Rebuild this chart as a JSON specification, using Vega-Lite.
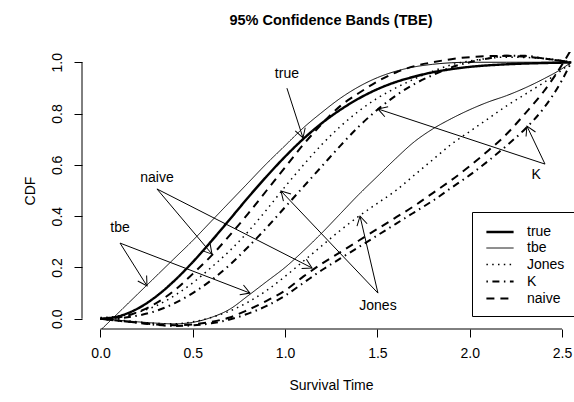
{
  "$schema": "https://vega.github.io/schema/vega-lite/v6.json",
  "width": 492,
  "height": 277,
  "autosize": {"type": "none"},
  "padding": {"left": 82, "top": 52, "right": 0, "bottom": 73},
  "background": "white",
  "config": {"view": {"stroke": null}, "font": "Liberation Sans"},
  "title": {"text": "95% Confidence Bands (TBE)", "fontSize": 14.5, "fontWeight": "bold", "font": "Liberation Sans", "anchor": "middle", "frame": "group", "offset": 24, "dx": 3, "color": "black"},
  "datasets": {
    "curves": [
      {"s":"true","b":"m","x":0,"y":0},{"s":"true","b":"m","x":0.1,"y":0.01},{"s":"true","b":"m","x":0.2,"y":0.039},{"s":"true","b":"m","x":0.3,"y":0.086},{"s":"true","b":"m","x":0.4,"y":0.148},{"s":"true","b":"m","x":0.5,"y":0.221},{"s":"true","b":"m","x":0.6,"y":0.302},{"s":"true","b":"m","x":0.7,"y":0.387},{"s":"true","b":"m","x":0.8,"y":0.473},{"s":"true","b":"m","x":0.9,"y":0.555},{"s":"true","b":"m","x":1.0,"y":0.632},{"s":"true","b":"m","x":1.1,"y":0.702},{"s":"true","b":"m","x":1.2,"y":0.763},{"s":"true","b":"m","x":1.3,"y":0.815},{"s":"true","b":"m","x":1.4,"y":0.859},{"s":"true","b":"m","x":1.5,"y":0.895},{"s":"true","b":"m","x":1.6,"y":0.923},{"s":"true","b":"m","x":1.7,"y":0.944},{"s":"true","b":"m","x":1.8,"y":0.961},{"s":"true","b":"m","x":1.9,"y":0.973},{"s":"true","b":"m","x":2.0,"y":0.982},{"s":"true","b":"m","x":2.2,"y":0.992},{"s":"true","b":"m","x":2.4,"y":0.997},{"s":"true","b":"m","x":2.55,"y":0.999},

      {"s":"tbe","b":"u","x":0,"y":-0.045},{"s":"tbe","b":"u","x":0.1,"y":0.025},{"s":"tbe","b":"u","x":0.2,"y":0.095},{"s":"tbe","b":"u","x":0.3,"y":0.165},{"s":"tbe","b":"u","x":0.4,"y":0.235},{"s":"tbe","b":"u","x":0.5,"y":0.305},{"s":"tbe","b":"u","x":0.6,"y":0.38},{"s":"tbe","b":"u","x":0.7,"y":0.455},{"s":"tbe","b":"u","x":0.8,"y":0.53},{"s":"tbe","b":"u","x":0.9,"y":0.605},{"s":"tbe","b":"u","x":1.0,"y":0.675},{"s":"tbe","b":"u","x":1.1,"y":0.745},{"s":"tbe","b":"u","x":1.2,"y":0.805},{"s":"tbe","b":"u","x":1.3,"y":0.86},{"s":"tbe","b":"u","x":1.4,"y":0.905},{"s":"tbe","b":"u","x":1.5,"y":0.94},{"s":"tbe","b":"u","x":1.6,"y":0.965},{"s":"tbe","b":"u","x":1.7,"y":0.982},{"s":"tbe","b":"u","x":1.8,"y":0.992},{"s":"tbe","b":"u","x":1.9,"y":0.998},{"s":"tbe","b":"u","x":2.0,"y":1.0},{"s":"tbe","b":"u","x":2.2,"y":1.0},{"s":"tbe","b":"u","x":2.4,"y":1.0},{"s":"tbe","b":"u","x":2.55,"y":1.0},

      {"s":"tbe","b":"l","x":0,"y":0},{"s":"tbe","b":"l","x":0.1,"y":-0.006},{"s":"tbe","b":"l","x":0.2,"y":-0.012},{"s":"tbe","b":"l","x":0.3,"y":-0.017},{"s":"tbe","b":"l","x":0.4,"y":-0.02},{"s":"tbe","b":"l","x":0.5,"y":-0.014},{"s":"tbe","b":"l","x":0.6,"y":0.005},{"s":"tbe","b":"l","x":0.7,"y":0.037},{"s":"tbe","b":"l","x":0.8,"y":0.09},{"s":"tbe","b":"l","x":0.9,"y":0.145},{"s":"tbe","b":"l","x":1.0,"y":0.2},{"s":"tbe","b":"l","x":1.1,"y":0.265},{"s":"tbe","b":"l","x":1.2,"y":0.335},{"s":"tbe","b":"l","x":1.3,"y":0.41},{"s":"tbe","b":"l","x":1.4,"y":0.485},{"s":"tbe","b":"l","x":1.5,"y":0.555},{"s":"tbe","b":"l","x":1.6,"y":0.625},{"s":"tbe","b":"l","x":1.7,"y":0.69},{"s":"tbe","b":"l","x":1.8,"y":0.74},{"s":"tbe","b":"l","x":1.9,"y":0.78},{"s":"tbe","b":"l","x":2.0,"y":0.815},{"s":"tbe","b":"l","x":2.1,"y":0.845},{"s":"tbe","b":"l","x":2.2,"y":0.87},{"s":"tbe","b":"l","x":2.3,"y":0.9},{"s":"tbe","b":"l","x":2.4,"y":0.935},{"s":"tbe","b":"l","x":2.5,"y":0.975},{"s":"tbe","b":"l","x":2.55,"y":1.0},

      {"s":"Jones","b":"u","x":0,"y":0.005},{"s":"Jones","b":"u","x":0.1,"y":0.01},{"s":"Jones","b":"u","x":0.2,"y":0.025},{"s":"Jones","b":"u","x":0.3,"y":0.05},{"s":"Jones","b":"u","x":0.4,"y":0.09},{"s":"Jones","b":"u","x":0.5,"y":0.14},{"s":"Jones","b":"u","x":0.6,"y":0.2},{"s":"Jones","b":"u","x":0.7,"y":0.265},{"s":"Jones","b":"u","x":0.8,"y":0.34},{"s":"Jones","b":"u","x":0.9,"y":0.425},{"s":"Jones","b":"u","x":1.0,"y":0.515},{"s":"Jones","b":"u","x":1.1,"y":0.6},{"s":"Jones","b":"u","x":1.2,"y":0.68},{"s":"Jones","b":"u","x":1.3,"y":0.75},{"s":"Jones","b":"u","x":1.4,"y":0.81},{"s":"Jones","b":"u","x":1.5,"y":0.86},{"s":"Jones","b":"u","x":1.6,"y":0.9},{"s":"Jones","b":"u","x":1.7,"y":0.935},{"s":"Jones","b":"u","x":1.8,"y":0.965},{"s":"Jones","b":"u","x":1.9,"y":0.99},{"s":"Jones","b":"u","x":2.0,"y":1.005},{"s":"Jones","b":"u","x":2.1,"y":1.015},{"s":"Jones","b":"u","x":2.2,"y":1.02},{"s":"Jones","b":"u","x":2.4,"y":1.015},{"s":"Jones","b":"u","x":2.55,"y":1.0},

      {"s":"Jones","b":"l","x":0,"y":0},{"s":"Jones","b":"l","x":0.1,"y":-0.005},{"s":"Jones","b":"l","x":0.2,"y":-0.012},{"s":"Jones","b":"l","x":0.3,"y":-0.018},{"s":"Jones","b":"l","x":0.4,"y":-0.02},{"s":"Jones","b":"l","x":0.5,"y":-0.012},{"s":"Jones","b":"l","x":0.6,"y":0.005},{"s":"Jones","b":"l","x":0.7,"y":0.03},{"s":"Jones","b":"l","x":0.8,"y":0.065},{"s":"Jones","b":"l","x":0.9,"y":0.11},{"s":"Jones","b":"l","x":1.0,"y":0.165},{"s":"Jones","b":"l","x":1.1,"y":0.225},{"s":"Jones","b":"l","x":1.2,"y":0.285},{"s":"Jones","b":"l","x":1.3,"y":0.345},{"s":"Jones","b":"l","x":1.4,"y":0.4},{"s":"Jones","b":"l","x":1.5,"y":0.45},{"s":"Jones","b":"l","x":1.6,"y":0.5},{"s":"Jones","b":"l","x":1.7,"y":0.56},{"s":"Jones","b":"l","x":1.8,"y":0.62},{"s":"Jones","b":"l","x":1.9,"y":0.68},{"s":"Jones","b":"l","x":2.0,"y":0.73},{"s":"Jones","b":"l","x":2.1,"y":0.78},{"s":"Jones","b":"l","x":2.2,"y":0.83},{"s":"Jones","b":"l","x":2.3,"y":0.875},{"s":"Jones","b":"l","x":2.4,"y":0.92},{"s":"Jones","b":"l","x":2.5,"y":0.97},{"s":"Jones","b":"l","x":2.55,"y":1.0},

      {"s":"K","b":"u","x":0,"y":0},{"s":"K","b":"u","x":0.1,"y":0.002},{"s":"K","b":"u","x":0.2,"y":0.012},{"s":"K","b":"u","x":0.3,"y":0.03},{"s":"K","b":"u","x":0.4,"y":0.06},{"s":"K","b":"u","x":0.5,"y":0.1},{"s":"K","b":"u","x":0.6,"y":0.15},{"s":"K","b":"u","x":0.7,"y":0.21},{"s":"K","b":"u","x":0.8,"y":0.28},{"s":"K","b":"u","x":0.9,"y":0.355},{"s":"K","b":"u","x":1.0,"y":0.435},{"s":"K","b":"u","x":1.1,"y":0.515},{"s":"K","b":"u","x":1.2,"y":0.595},{"s":"K","b":"u","x":1.3,"y":0.675},{"s":"K","b":"u","x":1.4,"y":0.75},{"s":"K","b":"u","x":1.5,"y":0.815},{"s":"K","b":"u","x":1.6,"y":0.87},{"s":"K","b":"u","x":1.7,"y":0.915},{"s":"K","b":"u","x":1.8,"y":0.95},{"s":"K","b":"u","x":1.9,"y":0.98},{"s":"K","b":"u","x":2.0,"y":1.0},{"s":"K","b":"u","x":2.1,"y":1.015},{"s":"K","b":"u","x":2.2,"y":1.025},{"s":"K","b":"u","x":2.3,"y":1.025},{"s":"K","b":"u","x":2.4,"y":1.015},{"s":"K","b":"u","x":2.55,"y":1.0},

      {"s":"K","b":"l","x":0,"y":0},{"s":"K","b":"l","x":0.1,"y":-0.008},{"s":"K","b":"l","x":0.2,"y":-0.016},{"s":"K","b":"l","x":0.3,"y":-0.024},{"s":"K","b":"l","x":0.4,"y":-0.028},{"s":"K","b":"l","x":0.5,"y":-0.026},{"s":"K","b":"l","x":0.6,"y":-0.018},{"s":"K","b":"l","x":0.7,"y":-0.003},{"s":"K","b":"l","x":0.8,"y":0.02},{"s":"K","b":"l","x":0.9,"y":0.05},{"s":"K","b":"l","x":1.0,"y":0.09},{"s":"K","b":"l","x":1.1,"y":0.14},{"s":"K","b":"l","x":1.2,"y":0.19},{"s":"K","b":"l","x":1.3,"y":0.235},{"s":"K","b":"l","x":1.4,"y":0.28},{"s":"K","b":"l","x":1.5,"y":0.325},{"s":"K","b":"l","x":1.6,"y":0.37},{"s":"K","b":"l","x":1.7,"y":0.415},{"s":"K","b":"l","x":1.8,"y":0.46},{"s":"K","b":"l","x":1.9,"y":0.51},{"s":"K","b":"l","x":2.0,"y":0.56},{"s":"K","b":"l","x":2.1,"y":0.615},{"s":"K","b":"l","x":2.2,"y":0.675},{"s":"K","b":"l","x":2.3,"y":0.74},{"s":"K","b":"l","x":2.4,"y":0.82},{"s":"K","b":"l","x":2.5,"y":0.93},{"s":"K","b":"l","x":2.55,"y":1.0},

      {"s":"naive","b":"u","x":0,"y":0},{"s":"naive","b":"u","x":0.1,"y":0.005},{"s":"naive","b":"u","x":0.2,"y":0.025},{"s":"naive","b":"u","x":0.3,"y":0.06},{"s":"naive","b":"u","x":0.4,"y":0.11},{"s":"naive","b":"u","x":0.5,"y":0.175},{"s":"naive","b":"u","x":0.6,"y":0.245},{"s":"naive","b":"u","x":0.7,"y":0.325},{"s":"naive","b":"u","x":0.8,"y":0.41},{"s":"naive","b":"u","x":0.9,"y":0.5},{"s":"naive","b":"u","x":1.0,"y":0.59},{"s":"naive","b":"u","x":1.1,"y":0.68},{"s":"naive","b":"u","x":1.2,"y":0.76},{"s":"naive","b":"u","x":1.3,"y":0.83},{"s":"naive","b":"u","x":1.4,"y":0.88},{"s":"naive","b":"u","x":1.5,"y":0.925},{"s":"naive","b":"u","x":1.6,"y":0.96},{"s":"naive","b":"u","x":1.7,"y":0.985},{"s":"naive","b":"u","x":1.8,"y":1.0},{"s":"naive","b":"u","x":1.9,"y":1.012},{"s":"naive","b":"u","x":2.0,"y":1.02},{"s":"naive","b":"u","x":2.2,"y":1.025},{"s":"naive","b":"u","x":2.4,"y":1.015},{"s":"naive","b":"u","x":2.55,"y":1.0},

      {"s":"naive","b":"l","x":0,"y":0},{"s":"naive","b":"l","x":0.1,"y":-0.008},{"s":"naive","b":"l","x":0.2,"y":-0.015},{"s":"naive","b":"l","x":0.3,"y":-0.022},{"s":"naive","b":"l","x":0.4,"y":-0.025},{"s":"naive","b":"l","x":0.5,"y":-0.022},{"s":"naive","b":"l","x":0.6,"y":-0.012},{"s":"naive","b":"l","x":0.7,"y":0.005},{"s":"naive","b":"l","x":0.8,"y":0.035},{"s":"naive","b":"l","x":0.9,"y":0.07},{"s":"naive","b":"l","x":1.0,"y":0.11},{"s":"naive","b":"l","x":1.1,"y":0.165},{"s":"naive","b":"l","x":1.2,"y":0.215},{"s":"naive","b":"l","x":1.3,"y":0.26},{"s":"naive","b":"l","x":1.4,"y":0.305},{"s":"naive","b":"l","x":1.5,"y":0.35},{"s":"naive","b":"l","x":1.6,"y":0.395},{"s":"naive","b":"l","x":1.7,"y":0.44},{"s":"naive","b":"l","x":1.8,"y":0.49},{"s":"naive","b":"l","x":1.9,"y":0.54},{"s":"naive","b":"l","x":2.0,"y":0.595},{"s":"naive","b":"l","x":2.1,"y":0.655},{"s":"naive","b":"l","x":2.2,"y":0.72},{"s":"naive","b":"l","x":2.3,"y":0.8},{"s":"naive","b":"l","x":2.4,"y":0.885},{"s":"naive","b":"l","x":2.5,"y":0.99},{"s":"naive","b":"l","x":2.55,"y":1.05}
    ],
    "axislines": [
      {"x": 0, "y": -0.04, "x2": 2.5, "y2": -0.04},
      {"x": -0.1, "y": 0, "x2": -0.1, "y2": 1}
    ],
    "arrows": [
      {"x": 1.097, "y": 0.705, "x2": 1.010, "y2": 0.899, "a": 72.3},
      {"x": 0.604, "y": 0.252, "x2": 0.306, "y2": 0.506, "a": 49.8},
      {"x": 1.146, "y": 0.198, "x2": 0.306, "y2": 0.506, "a": 27.0},
      {"x": 0.252, "y": 0.128, "x2": 0.106, "y2": 0.295, "a": 57.9},
      {"x": 0.810, "y": 0.100, "x2": 0.106, "y2": 0.295, "a": 21.0},
      {"x": 1.406, "y": 0.400, "x2": 1.503, "y2": 0.100, "a": -103.2},
      {"x": 0.978, "y": 0.498, "x2": 1.503, "y2": 0.100, "a": -133.6},
      {"x": 1.503, "y": 0.818, "x2": 2.408, "y2": 0.603, "a": -161.8},
      {"x": 2.310, "y": 0.751, "x2": 2.408, "y2": 0.603, "a": -115.3}
    ],
    "labels": [
      {"x": 1.01, "y": 0.954, "t": "true"},
      {"x": 0.306, "y": 0.549, "t": "naive"},
      {"x": 0.106, "y": 0.354, "t": "tbe"},
      {"x": 1.503, "y": 0.049, "t": "Jones"},
      {"x": 2.36, "y": 0.56, "t": "K"}
    ]
  },
  "encoding": {
    "x": {
      "field": "x", "type": "quantitative",
      "scale": {"domain": [-0.1, 2.565], "nice": false, "zero": false},
      "axis": {"values": [0, 0.5, 1, 1.5, 2, 2.5], "format": ".1f", "domain": false, "grid": false, "tickSize": 8, "tickColor": "black", "labelColor": "black", "labelFontSize": 14, "labelFont": "Liberation Sans", "labelPadding": 9, "labelFlush": false, "labelOverlap": false, "title": "Survival Time", "titleFont": "Liberation Sans", "titleFontSize": 14, "titleFontWeight": "normal", "titleColor": "black", "titleX": 249, "titleY": 56, "titleBaseline": "middle", "titleAlign": "center"}
    },
    "y": {
      "field": "y", "type": "quantitative",
      "scale": {"domain": [-0.04, 1.04], "nice": false, "zero": false},
      "axis": {"values": [0, 0.2, 0.4, 0.6, 0.8, 1.0], "format": ".1f", "domain": false, "grid": false, "tickSize": 8, "tickColor": "black", "labelColor": "black", "labelFontSize": 14, "labelFont": "Liberation Sans", "labelAngle": -90, "labelAlign": "center", "labelBaseline": "bottom", "labelPadding": 10, "labelFlush": false, "labelOverlap": false, "title": "CDF", "titleFont": "Liberation Sans", "titleFontSize": 14, "titleFontWeight": "normal", "titleColor": "black", "titleX": -52, "titleY": 138.5, "titleAngle": -90, "titleBaseline": "middle", "titleAlign": "center"}
    }
  },
  "layer": [
    {
      "data": {"name": "curves"},
      "mark": {"type": "line", "clip": true, "color": "black", "strokeCap": "butt", "interpolate": "monotone"},
      "encoding": {
        "detail": {"field": "b", "type": "nominal"},
        "strokeDash": {
          "field": "s", "type": "nominal",
          "scale": {"domain": ["true", "tbe", "Jones", "K", "naive"], "range": [[1, 0], [1, 0], [1.5, 4.3], [1.5, 4.5, 7, 4.5], [8, 6]]},
          "legend": {"title": null, "orient": "none", "legendX": 390, "legendY": 160, "strokeColor": "black", "fillColor": "white", "padding": 10, "symbolType": "M -1.6 0 H 1.6", "symbolSize": 289, "symbolStrokeColor": "black", "symbolOffset": 8, "labelOffset": 17, "labelFontSize": 14, "labelFont": "Liberation Sans", "labelColor": "black", "rowPadding": 0}
        },
        "strokeWidth": {
          "field": "s", "type": "nominal",
          "scale": {"type": "ordinal", "domain": ["true", "tbe", "Jones", "K", "naive"], "range": [2.4, 1, 1.5, 2, 2]},
          "legend": {"title": null, "orient": "none", "legendX": 390, "legendY": 160, "strokeColor": "black", "fillColor": "white", "padding": 10, "symbolType": "M -1.6 0 H 1.6", "symbolSize": 289, "symbolStrokeColor": "black", "symbolOffset": 8, "labelOffset": 17, "labelFontSize": 14, "labelFont": "Liberation Sans", "labelColor": "black", "rowPadding": 0}
        }
      }
    },
    {
      "data": {"name": "axislines"},
      "mark": {"type": "rule", "color": "black", "strokeWidth": 1, "clip": false},
      "encoding": {"x2": {"field": "x2"}, "y2": {"field": "y2"}}
    },
    {
      "data": {"name": "arrows"},
      "mark": {"type": "rule", "color": "black", "strokeWidth": 1},
      "encoding": {"x2": {"field": "x2"}, "y2": {"field": "y2"}}
    },
    {
      "data": {"name": "arrows"},
      "mark": {"type": "point", "shape": "M -1 -0.58 L 0 0 L -1 0.58", "filled": false, "stroke": "black", "strokeWidth": 1, "size": 324, "opacity": 1},
      "encoding": {"angle": {"field": "a", "type": "quantitative", "scale": null}}
    },
    {
      "data": {"name": "labels"},
      "mark": {"type": "text", "font": "Liberation Sans", "fontSize": 14, "color": "black", "align": "center", "baseline": "middle"},
      "encoding": {"text": {"field": "t", "type": "nominal"}}
    }
  ]
}
